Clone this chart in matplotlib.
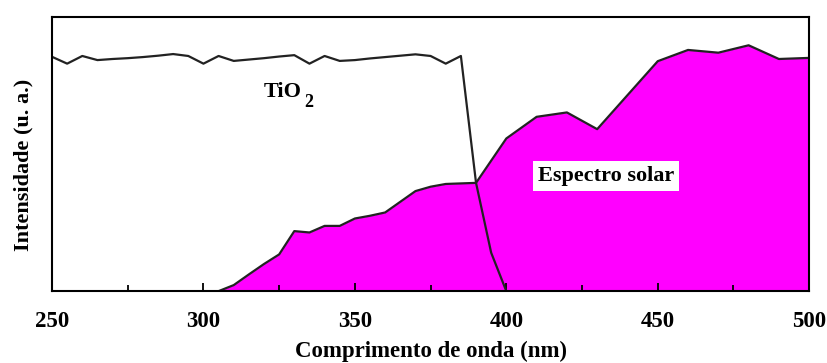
import matplotlib
matplotlib.use("Agg")
from matplotlib import pyplot as plt
from matplotlib.ticker import MultipleLocator

# TiO2 absorption curve
tio2_nm = [250, 255, 260, 265, 270, 275, 280, 285, 290, 295, 300, 305, 310, 315, 320,
           325, 330, 335, 340, 345, 350, 355, 360, 365, 370, 375, 380, 385, 390, 395, 400]
tio2_val = [0.855, 0.830, 0.858, 0.843, 0.847, 0.850, 0.854, 0.859, 0.865, 0.858, 0.830,
            0.858, 0.840, 0.845, 0.850, 0.856, 0.861, 0.830, 0.858, 0.840, 0.843, 0.849,
            0.854, 0.859, 0.864, 0.858, 0.830, 0.858, 0.395, 0.140, 0.0]

# solar spectrum
sol_nm = [250, 305, 310, 315, 320, 325, 330, 335, 340, 345, 350, 355, 360, 365, 370,
          375, 380, 385, 390, 400, 410, 420, 430, 450, 460, 470, 480, 490, 500]
sol_val = [0.0, 0.0, 0.022, 0.061, 0.099, 0.134, 0.219, 0.214, 0.238, 0.238, 0.265,
           0.275, 0.287, 0.326, 0.365, 0.381, 0.391, 0.393, 0.395, 0.557, 0.636, 0.652,
           0.591, 0.839, 0.880, 0.870, 0.897, 0.847, 0.851]

plt.rcParams['font.family'] = 'Liberation Serif'
plt.rcParams['font.weight'] = 'bold'

fig = plt.figure(figsize=(8.28, 3.63), dpi=100)
ax = fig.add_axes([0.0628, 0.198, 0.9145, 0.755])

ax.fill_between(sol_nm, sol_val, 0, color="#ff00ff", linewidth=0)
ax.plot(sol_nm, sol_val, color="#222222", linewidth=1.6)
ax.plot(tio2_nm, tio2_val, color="#222222", linewidth=1.6)

ax.text(332.6, 0.726, "TiO", fontsize=16, fontweight="bold",
        ha="right", va="center")
ax.text(333.4, 0.69, "2", fontsize=13, fontweight="bold",
        ha="left", va="center")
ax.text(433.0, 0.42, "Espectro solar", fontsize=16, fontweight="bold",
        ha="center", va="center",
        bbox=dict(facecolor="white", edgecolor="none", pad=3.5))

ax.set_xlim(250, 500)
ax.set_ylim(0, 1)
ax.xaxis.set_major_locator(MultipleLocator(50))
ax.xaxis.set_minor_locator(MultipleLocator(25))
ax.tick_params(axis="x", which="major", direction="in", length=6, width=1.3,
               labelsize=16.5, pad=14)
ax.tick_params(axis="x", which="minor", direction="in", length=4, width=1.3)
ax.set_yticks([])
for s in ax.spines.values():
    s.set_linewidth(1.5)

ax.set_xlabel("Comprimento de onda (nm)", fontsize=16.5, fontweight="bold", labelpad=7)
ax.set_ylabel("Intensidade (u. a.)", fontsize=16, fontweight="bold")
ax.yaxis.set_label_coords(-0.025, 0.46)

plt.savefig("out.png", dpi=100)
